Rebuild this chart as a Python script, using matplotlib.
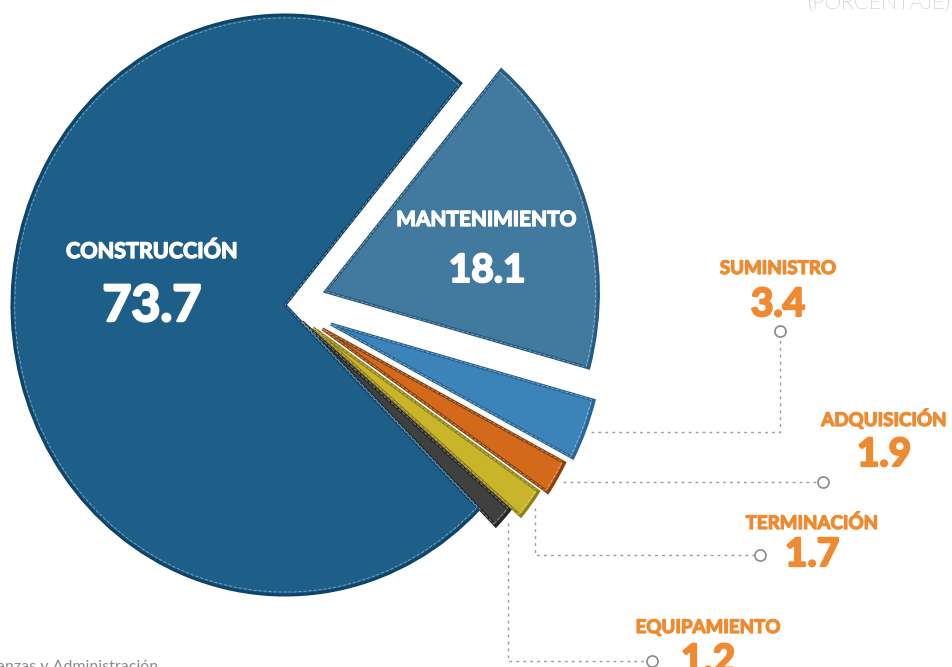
import math

import matplotlib
matplotlib.use("Agg")
import matplotlib.pyplot as plt
import matplotlib.patheffects as pe

# data, in drawing order (clockwise from the top of "Mantenimiento")
categories = ["MANTENIMIENTO", "SUMINISTRO", "ADQUISICIÓN", "TERMINACIÓN", "EQUIPAMIENTO", "CONSTRUCCIÓN"]
values = [18.1, 3.4, 1.9, 1.7, 1.2, 73.7]
value_labels = ["18.1", "3.4", "1.9", "1.7", "1.2", "73.7"]

colors = ["#41799f", "#3b83b9", "#d2691b", "#c8b52a", "#404040", "#1e5f8a"]
edge_colors = ["#275a80", "#276595", "#8c3f0a", "#8f7f12", "#262626", "#0e4468"]
explode = [0.155, 0.18, 0.16, 0.13, 0.085, 0.0]

ORANGE = "#f08a30"
GREY = "#8a8a8a"

# reference canvas is 953x667 px, pie centre / radii in pixels
W, H = 953, 667
CX, CY, RX, RY = 285, 305, 273, 290


def px(x, y):
    """pixel position (top-left origin) -> data coords"""
    return (x - CX) / RX, (CY - y) / RY


def heavy(color, lw=1.2):
    # fake an extra-heavy weight by stroking the glyphs
    return [pe.withStroke(linewidth=lw, foreground=color)]


fig = plt.figure(figsize=(W / 100, H / 100), dpi=100)
ax = fig.add_axes([0, 0, 1, 1])

wedges, _ = ax.pie(values, explode=explode, colors=colors, startangle=49.9,
                   counterclock=False,
                   wedgeprops=dict(linewidth=2.2, joinstyle="miter"))
for w, ec in zip(wedges, edge_colors):
    w.set_edgecolor(ec)

# faint light rim inside each slice
ax.pie(values, explode=explode, radius=0.99, startangle=49.9, counterclock=False,
       wedgeprops=dict(fill=False, linewidth=0.6, edgecolor=(1, 1, 1, 0.45),
                       linestyle=(0, (4, 2))))

ax.set_aspect("auto")
ax.set_xlim(-CX / RX, (W - CX) / RX)
ax.set_ylim((CY - H) / RY, CY / RY)
ax.axis("off")

font = "Lato"

# labels inside the big slices
ax.text(*px(152, 258), categories[5], color="white", fontsize=15.5, fontweight="bold",
        family=font, ha="center", va="baseline", path_effects=heavy("white", 1.0))
ax.text(*px(152, 321), value_labels[5], color="white", fontsize=36, fontweight="bold",
        family=font, ha="center", va="baseline", path_effects=heavy("white", 1.8))
ax.text(*px(486, 226), categories[0], color="white", fontsize=15, fontweight="bold",
        family=font, ha="center", va="baseline", path_effects=heavy("white", 1.0))
ax.text(*px(487, 282), value_labels[0], color="white", fontsize=28, fontweight="bold",
        family=font, ha="center", va="baseline", path_effects=heavy("white", 1.5))

# small slices: label positions (px) and circle marker positions (px)
label_pos = {1: (778, 274, 316), 2: (884, 426, 466), 3: (812, 529, 566), 4: (708, 633, 672)}
circle_pos = {1: (780, 331), 2: (823, 457), 3: (760, 555), 4: (652, 661)}

for i in range(1, 5):
    w = wedges[i]
    mid = math.radians((w.theta1 + w.theta2) / 2)
    r = w.r + 0.025
    x0 = w.center[0] + r * math.cos(mid)
    y0 = w.center[1] + r * math.sin(mid)
    xc, yc = px(*circle_pos[i])
    if i == 1:
        xs, ys = [x0, xc, xc], [y0, y0, yc]
    elif i == 2:
        xs, ys = [x0, xc], [y0, y0]
        yc = y0
    else:
        xs, ys = [x0, x0, xc], [y0, yc, yc]
    ax.plot(xs, ys, color="#9a9a9a", lw=1, linestyle=(0, (2, 3)), zorder=1)
    ax.plot([xc], [yc], "o", ms=8, mfc="white", mec=GREY, mew=1.2, zorder=3)

    lx, ly1, ly2 = label_pos[i]
    ax.text(*px(lx, ly1), categories[i], color=ORANGE, fontsize=13.5, fontweight="bold",
            family=font, ha="center", va="baseline", path_effects=heavy(ORANGE, 0.9))
    ax.text(*px(lx, ly2), value_labels[i], color=ORANGE, fontsize=28, fontweight="bold",
            family=font, ha="center", va="baseline", path_effects=heavy(ORANGE, 1.6))

# cut-off header and source
ax.text(*px(951, 9), "(PORCENTAJE)", color="#7a7a7a", fontsize=15.5, fontweight="light",
        family=font, ha="right", va="baseline")
ax.text(*px(158, 671), "Fuente: Secretaría de Finanzas y Administración", color="#8a8a8a",
        fontsize=11.5, family=font, ha="right", va="baseline")

fig.savefig("out.png", dpi=100)
